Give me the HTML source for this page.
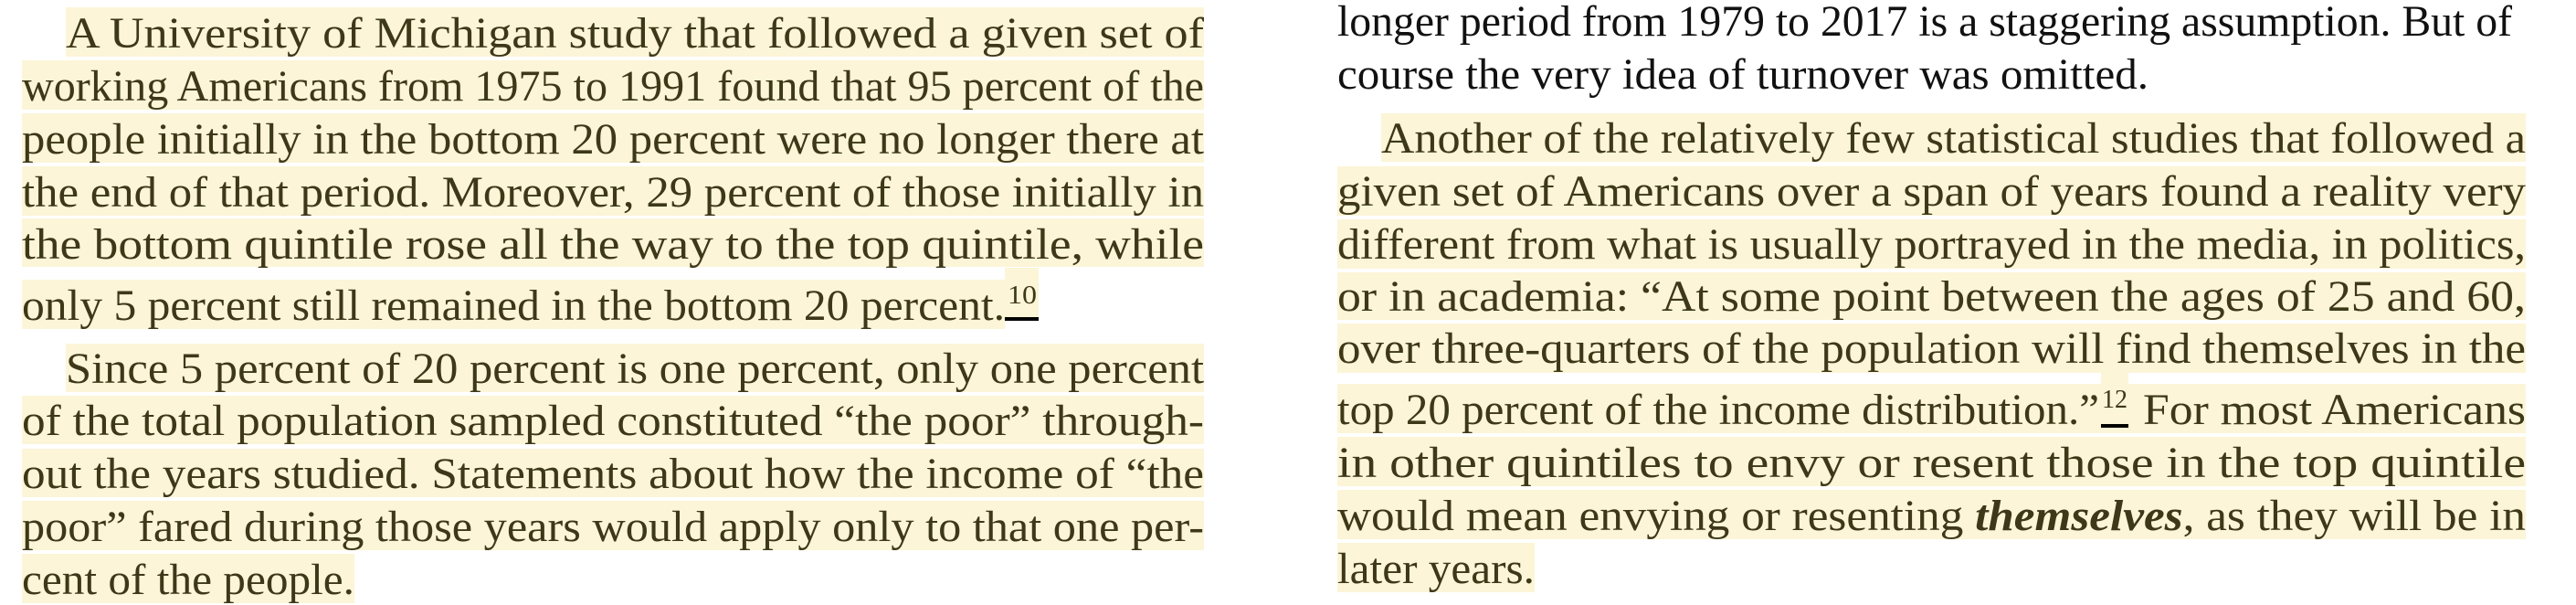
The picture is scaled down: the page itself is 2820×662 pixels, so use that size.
<!DOCTYPE html>
<html><head><meta charset="utf-8">
<style>
html,body{margin:0;padding:0;background:#fff;width:2820px;height:662px;overflow:hidden}
svg{display:block}
text{font-family:"Liberation Serif",serif;font-size:48px}
.h{fill:#3d3818}
.b{fill:#111}
.hl{fill:#fcf5d7}
</style></head>
<body>
<svg width="2820" height="662" viewBox="0 0 2820 662">
<g>
  <rect class="hl" x="72" y="8" width="1246" height="54"/>
  <rect class="hl" x="24" y="66" width="1294" height="54"/>
  <rect class="hl" x="24" y="124" width="1294" height="54"/>
  <rect class="hl" x="24" y="182" width="1294" height="54"/>
  <rect class="hl" x="24" y="239" width="1294" height="53"/>
  <rect class="hl" x="24" y="306" width="1076" height="54"/>
  <rect class="hl" x="1100" y="293" width="37" height="56"/>
  <rect class="hl" x="72" y="376" width="1246" height="53"/>
  <rect class="hl" x="24" y="433" width="1294" height="53"/>
  <rect class="hl" x="24" y="491" width="1294" height="53"/>
  <rect class="hl" x="24" y="548" width="1294" height="54"/>
  <rect class="hl" x="24" y="606" width="364" height="54"/>
  <text class="h" x="72" y="52" textLength="1246" lengthAdjust="spacingAndGlyphs">A University of Michigan study that followed a given set of</text>
  <text class="h" x="24" y="110" textLength="1294" lengthAdjust="spacingAndGlyphs">working Americans from 1975 to 1991 found that 95 percent of the</text>
  <text class="h" x="24" y="168" textLength="1294" lengthAdjust="spacingAndGlyphs">people initially in the bottom 20 percent were no longer there at</text>
  <text class="h" x="24" y="226" textLength="1294" lengthAdjust="spacingAndGlyphs">the end of that period. Moreover, 29 percent of those initially in</text>
  <text class="h" x="24" y="283" textLength="1294" lengthAdjust="spacingAndGlyphs">the bottom quintile rose all the way to the top quintile, while</text>
  <text class="h" x="24" y="350" textLength="1076" lengthAdjust="spacingAndGlyphs">only 5 percent still remained in the bottom 20 percent.</text>
  <text class="h" x="1103" y="332" style="font-size:28px" textLength="32" lengthAdjust="spacingAndGlyphs">10</text>
  <rect x="1100" y="347" width="37" height="4" fill="#000"/>
  <text class="h" x="72" y="419" textLength="1246" lengthAdjust="spacingAndGlyphs">Since 5 percent of 20 percent is one percent, only one percent</text>
  <text class="h" x="24" y="476" textLength="1294" lengthAdjust="spacingAndGlyphs">of the total population sampled constituted “the poor” through-</text>
  <text class="h" x="24" y="534" textLength="1294" lengthAdjust="spacingAndGlyphs">out the years studied. Statements about how the income of “the</text>
  <text class="h" x="24" y="592" textLength="1294" lengthAdjust="spacingAndGlyphs">poor” fared during those years would apply only to that one per-</text>
  <text class="h" x="24" y="650" textLength="364" lengthAdjust="spacingAndGlyphs">cent of the people.</text>
</g>
<g>
  <text class="b" x="1464" y="39" textLength="1286" lengthAdjust="spacingAndGlyphs">longer period from 1979 to 2017 is a staggering assumption. But of</text>
  <text class="b" x="1464" y="97" textLength="888" lengthAdjust="spacingAndGlyphs">course the very idea of turnover was omitted.</text>
  <rect class="hl" x="1512" y="124" width="1253" height="53"/>
  <rect class="hl" x="1464" y="182" width="1301" height="54"/>
  <rect class="hl" x="1464" y="240" width="1301" height="54"/>
  <rect class="hl" x="1464" y="298" width="1301" height="52"/>
  <rect class="hl" x="1464" y="354" width="1301" height="54"/>
  <rect class="hl" x="1464" y="420" width="1301" height="54"/>
  <rect class="hl" x="2300" y="406" width="30" height="60"/>
  <rect class="hl" x="1464" y="478" width="1301" height="54"/>
  <rect class="hl" x="1464" y="536" width="1301" height="54"/>
  <rect class="hl" x="1464" y="594" width="216" height="54"/>
  <text class="h" x="1512" y="167" textLength="1253" lengthAdjust="spacingAndGlyphs">Another of the relatively few statistical studies that followed a</text>
  <text class="h" x="1464" y="225" textLength="1301" lengthAdjust="spacingAndGlyphs">given set of Americans over a span of years found a reality very</text>
  <text class="h" x="1464" y="283" textLength="1301" lengthAdjust="spacingAndGlyphs">different from what is usually portrayed in the media, in politics,</text>
  <text class="h" x="1464" y="340" textLength="1301" lengthAdjust="spacingAndGlyphs">or in academia: “At some point between the ages of 25 and 60,</text>
  <text class="h" x="1464" y="397" textLength="1301" lengthAdjust="spacingAndGlyphs">over three-quarters of the population will find themselves in the</text>
  <text class="h" x="1464" y="464" textLength="834" lengthAdjust="spacingAndGlyphs">top 20 percent of the income distribution.”</text>
  <text class="h" x="2301" y="446" style="font-size:28px" textLength="28" lengthAdjust="spacingAndGlyphs">12</text>
  <rect x="2300" y="464" width="30" height="4" fill="#000"/>
  <text class="h" x="2346" y="464" textLength="419" lengthAdjust="spacingAndGlyphs">For most Americans</text>
  <text class="h" x="1464" y="522" textLength="1301" lengthAdjust="spacingAndGlyphs">in other quintiles to envy or resent those in the top quintile</text>
  <text class="h" x="1464" y="580" textLength="1301" lengthAdjust="spacingAndGlyphs">would mean envying or resenting <tspan font-weight="bold" font-style="italic">themselves</tspan>, as they will be in</text>
  <text class="h" x="1464" y="638" textLength="216" lengthAdjust="spacingAndGlyphs">later years.</text>
</g>
</svg>
</body></html>
